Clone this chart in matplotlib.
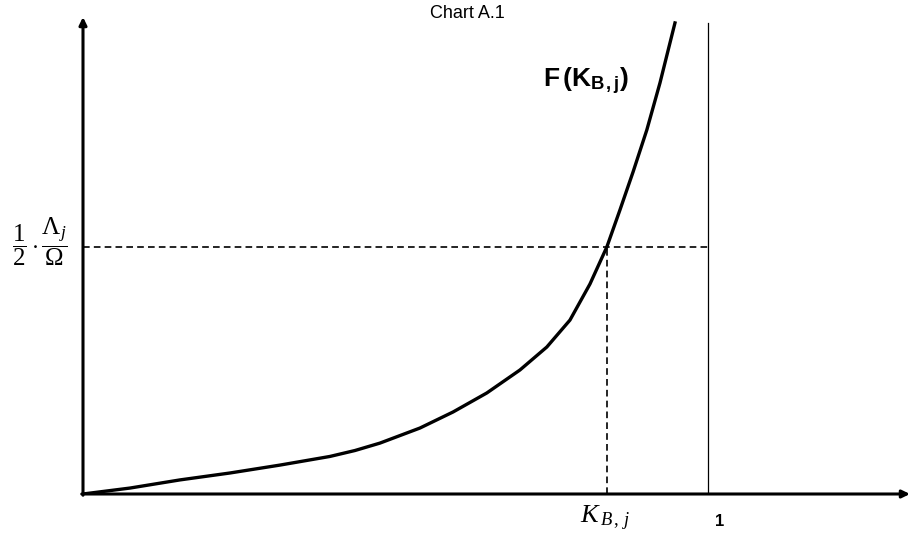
import numpy as np
import matplotlib.pyplot as plt

plt.rcParams['mathtext.fontset'] = 'custom'
plt.rcParams['mathtext.rm'] = 'Liberation Serif'
plt.rcParams['mathtext.it'] = 'Liberation Serif:italic'
plt.rcParams['mathtext.bf'] = 'Liberation Sans:bold'

# curve F(K_B,j) (x in units of the "1" line, y in units of the dashed level)
curve_x = [0.0, 0.075, 0.155, 0.235, 0.315, 0.395, 0.435, 0.475, 0.539, 0.592, 0.646,
           0.699, 0.742, 0.779, 0.811, 0.838, 0.859, 0.880, 0.902, 0.923, 0.947]
curve_y = [0.0, 0.024, 0.057, 0.085, 0.117, 0.152, 0.176, 0.206, 0.267, 0.332, 0.409,
           0.502, 0.595, 0.704, 0.850, 1.0, 1.150, 1.304, 1.474, 1.664, 1.907]
k_bj = 0.838
level = 1.0
one_line_top = 1.907

x_max = 1.323
y_max = 1.931

fig = plt.figure(figsize=(9.11, 5.42), dpi=100)
# axes box: px 83..910 horizontally, px 17..494 vertically
ax = fig.add_axes([83 / 911, (542 - 494) / 542, (910 - 83) / 911, (494 - 17) / 542])
ax.set_xlim(0, x_max)
ax.set_ylim(0, y_max)
ax.axis('off')

# axes with arrows
arrow = dict(arrowstyle='-|>,head_length=0.45,head_width=0.22', lw=2.2,
             color='black', shrinkA=0, shrinkB=0)
ax.annotate('', xy=(x_max, 0), xytext=(-0.002, 0), arrowprops=arrow, annotation_clip=False)
ax.annotate('', xy=(0, y_max), xytext=(0, -0.005), arrowprops=arrow, annotation_clip=False)

# vertical line at 1
ax.plot([1, 1], [0, one_line_top], color='black', lw=0.9)

# dashed guides
ax.plot([0, 1], [level, level], color='black', lw=1.2, ls=(0, (4, 2.5)))
ax.plot([k_bj, k_bj], [0, level], color='black', lw=1.2, ls=(0, (4, 2.5)))

# curve
ax.plot(curve_x, curve_y, color='black', lw=2.4, solid_joinstyle='round')

# labels
ax.text(-0.069, 1.02, r'$\dfrac{1}{2}\cdot\dfrac{\Lambda_j}{\Omega}$', fontsize=18,
        ha='center', va='center')
ax.text(k_bj - 0.003, -0.1, r'$K_{\,B\,,\,j}$', fontsize=19, ha='center', va='center')
ax.text(1.019, -0.11, '1', fontsize=12, fontweight='bold', family='Liberation Sans',
        ha='center', va='center')
ax.text(0.736, 1.648, r'$\mathbf{F\,(K}_{\mathbf{B\,,j}}\mathbf{)}$', fontsize=19,
        ha='left', va='baseline')

fig.text(467 / 911, 1 - 13 / 542, 'Chart A.1', fontsize=13, family='Liberation Sans',
         ha='center', va='center')

fig.savefig('out.png', dpi=100)
